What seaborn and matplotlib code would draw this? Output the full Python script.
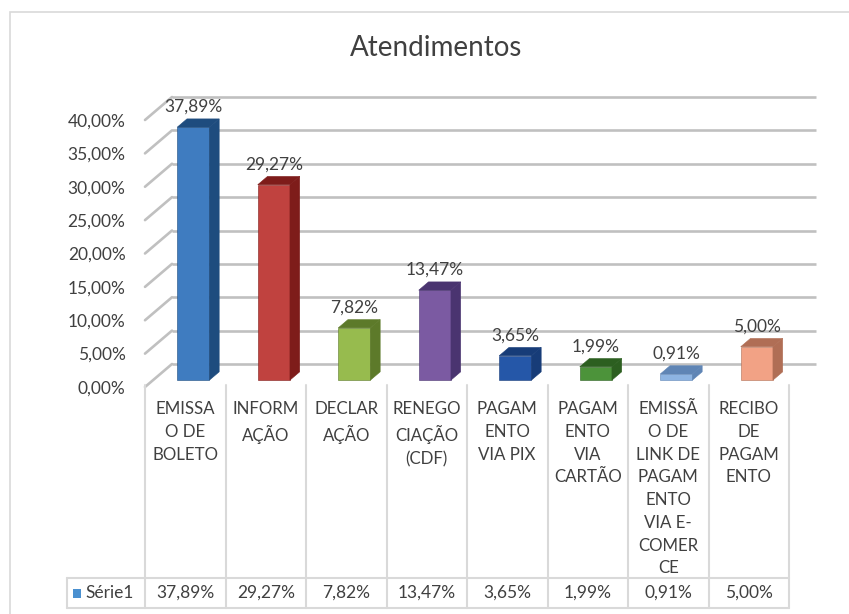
import numpy as np
import pandas as pd
import matplotlib
matplotlib.use("Agg")
import matplotlib.pyplot as plt
from matplotlib.patches import Polygon, Rectangle
from matplotlib.transforms import blended_transform_factory
import seaborn as sns

# Data
categories = ["EMISSA\nO DE\nBOLETO", "INFORM\nAÇÃO", "DECLAR\nAÇÃO", "RENEGO\nCIAÇÃO\n(CDF)",
              "PAGAM\nENTO\nVIA PIX", "PAGAM\nENTO\nVIA\nCARTÃO",
              "EMISSÃ\nO DE\nLINK DE\nPAGAM\nENTO\nVIA E-\nCOMER\nCE", "RECIBO\nDE\nPAGAM\nENTO"]
values = [37.89, 29.27, 7.82, 13.47, 3.65, 1.99, 0.91, 5.00]
series_name = "Série1"
yticks = [0, 5, 10, 15, 20, 25, 30, 35, 40]

front_colors = ["#3F7CC0", "#C0423F", "#97BB4E", "#7B5AA2", "#2557A8", "#4C933A", "#8DB4E2", "#F2A285"]
side_colors = ["#1E4C7E", "#7E1C1A", "#5D7A2A", "#4A3470", "#173C78", "#2C5F20", "#5F85B5", "#B06E55"]


def pct(v):
    return f"{v:.2f}".replace(".", ",") + "%"


sns.set_style("white")
plt.rcParams["font.family"] = ["Lato", "DejaVu Sans"]

W, H = 849, 614
fig = plt.figure(figsize=(W / 100, H / 100), dpi=100)

# front plane of the 3D box, in pixels
left_px, right_px, bottom_px, top_px = 145, 789, 387, 120
ax = fig.add_axes([left_px / W, 1 - bottom_px / H, (right_px - left_px) / W, (bottom_px - top_px) / H])

df = pd.DataFrame({"cat": categories, "val": values})
sns.barplot(data=df, x="cat", y="val", hue="cat", palette=front_colors, width=0.4,
            legend=False, ax=ax, saturation=1)
ax.set_xlim(-0.5, len(categories) - 0.5)
ax.set_ylim(0, 40)

# depth of the back wall in data units
px_x = (right_px - left_px) / len(categories)
px_y = (bottom_px - top_px) / 40
wdx, wdy = 27 / px_x, 23 / px_y

grid_c = "#C0C0C0"
for t in yticks:
    ax.plot([-0.5 + wdx, len(categories) - 0.5 + wdx], [t + wdy, t + wdy],
            color=grid_c, lw=1.9, clip_on=False, zorder=0.5, solid_capstyle="butt")
    ax.plot([-0.5, -0.5 + wdx], [t, t + wdy], color=grid_c, lw=1.9, clip_on=False, zorder=0.5)

# 3D bars: shift front face into the box, add side and top faces
f0, fd = 0.30, 0.36
for i, p in enumerate(ax.patches[:len(values)]):
    x, w, h = p.get_x(), p.get_width(), p.get_height()
    x0, y0 = x + f0 * wdx, f0 * wdy
    ddx, ddy = fd * wdx, fd * wdy
    p.set_x(x0)
    p.set_y(y0)
    p.set_edgecolor(side_colors[i])
    p.set_linewidth(0.4)
    p.set_clip_on(False)
    p.set_zorder(3)
    side = Polygon([(x0 + w, y0), (x0 + w + ddx, y0 + ddy), (x0 + w + ddx, y0 + h + ddy), (x0 + w, y0 + h)],
                   closed=True, facecolor=side_colors[i], edgecolor=side_colors[i], lw=0.4, clip_on=False, zorder=3)
    top = Polygon([(x0, y0 + h), (x0 + w, y0 + h), (x0 + w + ddx, y0 + h + ddy), (x0 + ddx, y0 + h + ddy)],
                  closed=True, facecolor=side_colors[i], edgecolor=side_colors[i], lw=0.4, clip_on=False, zorder=3)
    ax.add_patch(side)
    ax.add_patch(top)
    ax.annotate(pct(values[i]), (x0 + w / 2, y0 + h + ddy), xytext=(0, 3), textcoords="offset points",
                ha="center", va="bottom", fontsize=12.5, color="#404040", zorder=4,
                annotation_clip=False)

ax.set_yticks(yticks)
ax.set_yticklabels([pct(t) for t in yticks], fontsize=12.5, color="#404040")
ax.tick_params(axis="y", length=0, pad=14)
ax.set_xticks([])
ax.set_xlabel("")
ax.set_ylabel("")
for s in ax.spines.values():
    s.set_visible(False)
ax.patch.set_alpha(0)

# data table below the plot
tr = blended_transform_factory(ax.transData, fig.transFigure)
line_c = "#D9D9D9"
y_top, y_mid, y_bot = 1 - 385 / H, 1 - 578 / H, 1 - 608 / H
x_leg = -0.5 - 78 / px_x
for k in range(len(categories) + 1):
    ax.plot([k - 0.5, k - 0.5], [y_top, y_bot], color=line_c, lw=1.5, transform=tr, clip_on=False)
ax.plot([x_leg, x_leg], [y_mid, y_bot], color=line_c, lw=1.5, transform=tr, clip_on=False)
for yy in (y_mid, y_bot):
    ax.plot([x_leg, len(categories) - 0.5], [yy, yy], color=line_c, lw=1.5, transform=tr, clip_on=False)

for k, c in enumerate(categories):
    ax.text(k, 1 - 401 / H, c, transform=tr, ha="center", va="top", fontsize=12.2,
            color="#404040", linespacing=1.52, multialignment="center")
    ax.text(k, (y_mid + y_bot) / 2, pct(values[k]), transform=tr, ha="center", va="center",
            fontsize=12.5, color="#404040")

ax.add_patch(Rectangle((x_leg + 6 / px_x, 1 - 598 / H), 8 / px_x, 9 / H, transform=tr,
                       facecolor="#4A90D0", edgecolor="none", clip_on=False))
ax.text(x_leg + 18 / px_x, (y_mid + y_bot) / 2, series_name, transform=tr, ha="left", va="center",
        fontsize=12.5, color="#404040")

fig.text(436 / W, 1 - 48 / H, "Atendimentos", ha="center", va="center", fontsize=20, color="#404040")

# chart border
fig.patches.append(Rectangle((10 / W, -0.1), 1.2, 1 - 12 / H + 0.1, transform=fig.transFigure,
                             facecolor="none", edgecolor="#D9D9D9", lw=1.2))

fig.savefig("out.png", dpi=100)
plt.close(fig)
